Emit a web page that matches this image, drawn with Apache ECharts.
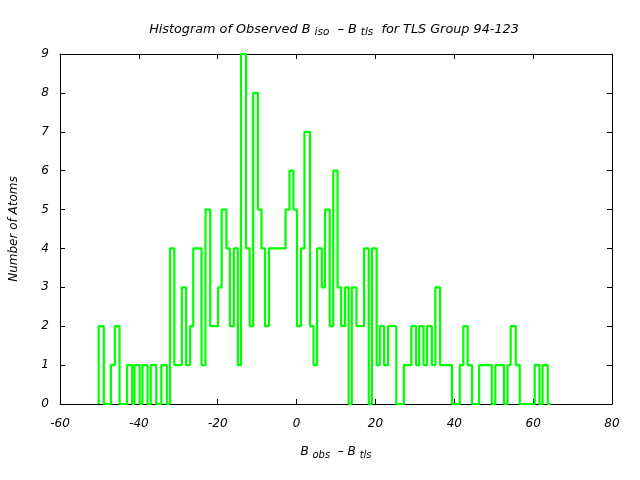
<!DOCTYPE html>
<html>
<head>
<meta charset="utf-8">
<script src="https://cdn.jsdelivr.net/npm/echarts@6/dist/echarts.min.js"></script>
<style>html,body{margin:0;padding:0;background:#fff;}#c{width:640px;height:480px;}</style>
</head>
<body>
<div id="c"></div>
<script>
// Bin edges (B_obs - B_tls) and atom counts holding from each edge to the next
const binEdges = [-50.2, -50.2, -48.9, -47.1, -46.1, -44.9, -43.0, -41.7, -41.1, -39.8, -39.1, -37.8, -37.0, -35.6, -34.3, -32.9, -32.1, -31.0, -29.1, -28.0, -27.0, -26.2, -24.1, -23.1, -21.9, -19.9, -19.0, -17.8, -16.9, -15.9, -14.9, -14.1, -12.8, -11.9, -11.0, -9.8, -8.9, -8.0, -7.0, -2.8, -1.8, -0.8, 0.1, 1.1, 2.0, 3.4, 4.3, 5.2, 6.4, 7.2, 8.4, 9.3, 10.4, 11.3, 12.3, 13.2, 14.0, 15.2, 17.1, 18.3, 19.1, 20.3, 21.1, 22.2, 23.2, 25.3, 27.2, 29.1, 30.3, 31.1, 32.2, 33.1, 34.3, 35.2, 36.4, 39.4, 41.4, 42.3, 43.4, 44.5, 46.3, 49.5, 50.4, 52.6, 53.5, 54.3, 55.6, 56.6, 60.4, 61.6, 62.4, 63.7, 64.5];
const counts   = [0, 2, 0, 1, 2, 0, 1, 0, 1, 0, 1, 0, 1, 0, 1, 0, 4, 1, 3, 1, 2, 4, 1, 5, 2, 3, 5, 4, 2, 4, 1, 9, 4, 2, 8, 5, 4, 2, 4, 5, 6, 5, 2, 4, 7, 2, 1, 4, 3, 5, 2, 6, 3, 2, 3, 0, 3, 2, 4, 0, 4, 1, 2, 1, 2, 0, 1, 2, 1, 2, 1, 2, 1, 3, 1, 0, 1, 2, 1, 0, 1, 0, 1, 0, 1, 2, 1, 0, 1, 0, 1, 0, 0];
const xTicks = {min: -60, max: 80, interval: 20};
const yTicks = {min: 0, max: 9, interval: 1};

const font = 'DejaVu Sans';
const data = binEdges.map((x, i) => [x, counts[i]]);
const chart = echarts.init(document.getElementById('c'), null, {renderer: 'canvas'});
const axisCommon = {
  axisLine: {show: true, onZero: false, lineStyle: {color: '#000', width: 1}},
  axisTick: {show: true, inside: true, length: 5, lineStyle: {color: '#000'}},
  splitLine: {show: false}
};
const sub = {fontFamily: font, fontStyle: 'italic', fontWeight: 'normal', fontSize: 10, color: '#000', padding: [6, 0, 0, 0]};
const main = {fontFamily: font, fontStyle: 'italic', fontWeight: 'normal', fontSize: 12, color: '#000'};
const tsub = Object.assign({}, sub, {fontSize: 10.5});
const tmain = Object.assign({}, main, {fontSize: 12.8});
chart.setOption({
  animation: false,
  backgroundColor: '#fff',
  title: {
    text: '{m|Histogram of Observed B }{s|iso}{m|  – B }{s|tls}{m|  for TLS Group 94-123}',
    left: 329, top: 16, textAlign: 'center',
    textStyle: {fontWeight: 'normal', rich: {m: tmain, s: tsub}}
  },
  grid: {left: 58, right: 28, top: 54, bottom: 76},
  xAxis: [
    Object.assign({
      type: 'value', position: 'bottom', min: xTicks.min, max: xTicks.max, interval: xTicks.interval,
      axisLabel: {fontFamily: font, fontStyle: 'italic', fontSize: 12, color: '#000', margin: 14},
      name: '{m|B }{s|obs}{m|  – B }{s|tls}', nameLocation: 'middle', nameGap: 40,
      nameTextStyle: {rich: {m: main, s: sub}}
    }, axisCommon),
    Object.assign({
      type: 'value', position: 'top', min: xTicks.min, max: xTicks.max, interval: xTicks.interval,
      axisLabel: {show: false}
    }, axisCommon)
  ],
  yAxis: [
    Object.assign({
      type: 'value', position: 'left', min: yTicks.min, max: yTicks.max, interval: yTicks.interval,
      axisLabel: {fontFamily: font, fontStyle: 'italic', fontSize: 12, color: '#000', margin: 11},
      name: 'Number of Atoms', nameLocation: 'middle', nameGap: 40, nameRotate: 90,
      nameTextStyle: {fontFamily: font, fontStyle: 'italic', fontSize: 12, color: '#000'}
    }, axisCommon),
    Object.assign({
      type: 'value', position: 'right', min: yTicks.min, max: yTicks.max, interval: yTicks.interval,
      axisLabel: {show: false}
    }, axisCommon)
  ],
  series: [{
    type: 'line', step: 'end', data: data, xAxisIndex: 0, yAxisIndex: 0,
    showSymbol: false, symbol: 'none',
    lineStyle: {color: '#00ff00', width: 2.2}
  }]
});
</script>
</body>
</html>
